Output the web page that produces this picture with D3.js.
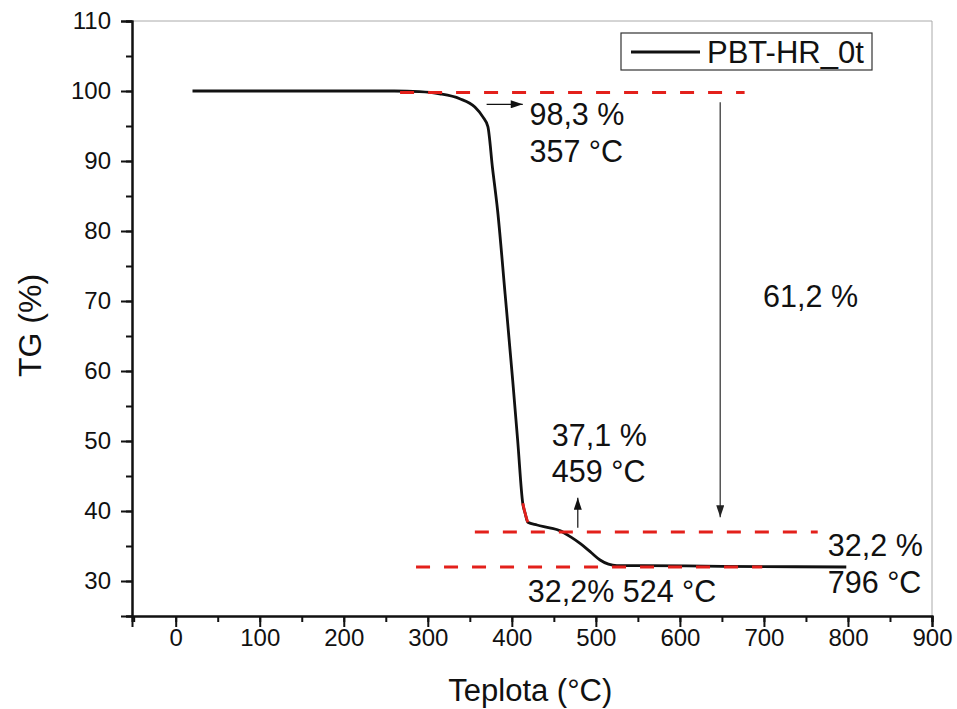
<!DOCTYPE html>
<html>
<head>
<meta charset="utf-8">
<script src="https://cdn.jsdelivr.net/npm/d3@7"></script>
<style>
  body { margin: 0; background: #fff; }
  text { font-family: "Liberation Sans", Arial, sans-serif; fill: #111; }
  .tick text { font-size: 24px; }
</style>
</head>
<body>
<svg id="tg-chart"></svg>
<script>
//======= data =======//
let temps = [20, 100, 200, 260, 290, 314, 338, 356, 365.5, 371.5, 377, 383, 392, 401, 407, 413, 416, 419,
  430, 445, 457, 470, 482, 495, 505, 515, 525, 550, 650, 798];
let tgValues = [100, 100, 100, 100, 99.9, 99.6, 98.9, 97.7, 96.3, 94.9, 89, 83, 71, 58.7, 50, 41.1, 39.6, 38.4,
  38.0, 37.6, 37.2, 36.3, 35.3, 34.0, 33.0, 32.4, 32.2, 32.2, 32.1, 32.0];
let redSegment = [413, 419];

let xTicks = [0, 100, 200, 300, 400, 500, 600, 700, 800, 900];
let yTicks = [30, 40, 50, 60, 70, 80, 90, 100, 110];
let seriesName = 'PBT-HR_0t';

// guide levels (TG %) and their temperature spans
let guideLevels = [99.8, 37.0, 32.0];
let guideStarts = [267, 356, 286];
let guideEnds = [677, 764, 698];

// annotation labels
let labelTexts = ['98,3 %', '357 °C', '37,1 %', '459 °C', '61,2 %', '32,2 %', '796 °C', '32,2% 524 °C'];
let labelTemps = [421, 421, 447.6, 447.6, 699, 776, 776, 419];
let labelValues = [95.1, 89.9, 49.3, 44.1, 69.1, 33.6, 28.3, 27.0];

//======= layout =======//
let width = 957;
let height = 709;
let margin = { top: 21, right: 25, bottom: 93, left: 132 };
let plotW = width - margin.left - margin.right;
let plotH = height - margin.top - margin.bottom;

let svg = d3.select('#tg-chart')
  .attr('width', width)
  .attr('height', height);

let x = d3.scaleLinear().domain([-52, 900]).range([margin.left, margin.left + plotW]);
let y = d3.scaleLinear().domain([25, 110]).range([margin.top + plotH, margin.top]);

let defs = svg.append('defs');
function addHead(id, color) {
  defs.append('marker')
    .attr('id', id)
    .attr('viewBox', '0 0 12 8')
    .attr('refX', 12)
    .attr('refY', 4)
    .attr('markerWidth', 13)
    .attr('markerHeight', 8)
    .attr('markerUnits', 'userSpaceOnUse')
    .attr('orient', 'auto')
    .append('path')
    .attr('d', 'M0,0 L12,4 L0,8 Z')
    .attr('fill', color);
}
addHead('head', '#111');
addHead('headGray', '#222');

//======= frame + axes =======//
svg.append('path')
  .attr('d', 'M' + x(-52) + ',' + y(110) + 'H' + x(900) + 'V' + y(25))
  .attr('fill', 'none')
  .attr('stroke', '#aaa')
  .attr('stroke-width', 1);

let xMinor = d3.range(-50, 901, 50);
let yMinor = d3.range(25, 111, 5);

let xAxisG = svg.append('g').attr('transform', 'translate(0,' + y(25) + ')');
xAxisG.call(d3.axisBottom(x).tickValues(xMinor).tickSize(6).tickFormat(''));
xAxisG.append('g')
  .call(d3.axisBottom(x).tickValues(xTicks).tickSize(11).tickPadding(2).tickFormat(d3.format('d')))
  .attr('font-size', 24)
  .attr('font-family', null);

let yAxisG = svg.append('g').attr('transform', 'translate(' + x(-52) + ',0)');
yAxisG.call(d3.axisLeft(y).tickValues(yMinor).tickSize(6).tickFormat(''));
yAxisG.append('g')
  .call(d3.axisLeft(y).tickValues(yTicks).tickSize(11).tickPadding(10).tickFormat(d3.format('d')))
  .attr('font-size', 24)
  .attr('font-family', null);

svg.selectAll('.domain').attr('stroke', '#111').attr('stroke-width', 2);
svg.selectAll('.tick line').attr('stroke', '#111').attr('stroke-width', 2);
svg.selectAll('.tick text').attr('fill', '#111');

svg.append('text')
  .attr('x', x(422))
  .attr('y', 701)
  .attr('text-anchor', 'middle')
  .style('font-size', '31px')
  .text('Teplota (°C)');

svg.append('text')
  .attr('transform', 'translate(41,' + y(66.5) + ') rotate(-90)')
  .attr('text-anchor', 'middle')
  .style('font-size', '32px')
  .text('TG (%)');

//======= curve =======//
let points = temps.map(function (t, i) { return [t, tgValues[i]]; });
let line = d3.line()
  .curve(d3.curveMonotoneX)
  .x(function (d) { return x(d[0]); })
  .y(function (d) { return y(d[1]); });

svg.append('path')
  .datum(points)
  .attr('fill', 'none')
  .attr('stroke', '#111')
  .attr('stroke-width', 2.8)
  .attr('stroke-linejoin', 'round')
  .attr('d', line);

svg.append('path')
  .datum(points.filter(function (d) { return d[0] >= redSegment[0] && d[0] <= redSegment[1]; }))
  .attr('fill', 'none')
  .attr('stroke', '#e3201b')
  .attr('stroke-width', 2.8)
  .attr('d', line);

//======= guide lines =======//
svg.append('g')
  .selectAll('line')
  .data(guideLevels)
  .enter()
  .append('line')
  .attr('x1', function (d, i) { return x(guideStarts[i]); })
  .attr('x2', function (d, i) { return x(guideEnds[i]); })
  .attr('y1', function (d) { return y(d); })
  .attr('y2', function (d) { return y(d); })
  .attr('stroke', '#e3201b')
  .attr('stroke-width', 3)
  .attr('stroke-dasharray', '14,14');

//======= arrows =======//
svg.append('line')
  .attr('x1', x(370)).attr('x2', x(413))
  .attr('y1', y(98.1)).attr('y2', y(98.1))
  .attr('stroke', '#111').attr('stroke-width', 1.2)
  .attr('marker-end', 'url(#head)');

svg.append('line')
  .attr('x1', x(478.5)).attr('x2', x(478.5))
  .attr('y1', y(37.6)).attr('y2', y(41.9))
  .attr('stroke', '#111').attr('stroke-width', 1.2)
  .attr('marker-end', 'url(#head)');

svg.append('line')
  .attr('x1', x(648)).attr('x2', x(648))
  .attr('y1', y(98.4)).attr('y2', y(39.1))
  .attr('stroke', '#555').attr('stroke-width', 1.5)
  .attr('marker-end', 'url(#headGray)');

//======= labels =======//
svg.append('g')
  .selectAll('text')
  .data(labelTexts)
  .enter()
  .append('text')
  .attr('x', function (d, i) { return x(labelTemps[i]); })
  .attr('y', function (d, i) { return y(labelValues[i]); })
  .style('font-size', '30.5px')
  .text(function (d) { return d; });

//======= legend =======//
let legend = svg.append('g').attr('transform', 'translate(621,33)');
legend.append('rect')
  .attr('width', 251)
  .attr('height', 37)
  .attr('fill', '#fff')
  .attr('stroke', '#333')
  .attr('stroke-width', 1.2);
legend.append('line')
  .attr('x1', 10).attr('x2', 79)
  .attr('y1', 19).attr('y2', 19)
  .attr('stroke', '#111')
  .attr('stroke-width', 2.8);
legend.append('text')
  .attr('x', 86)
  .attr('y', 30)
  .style('font-size', '31px')
  .text(seriesName);
</script>
</body>
</html>
